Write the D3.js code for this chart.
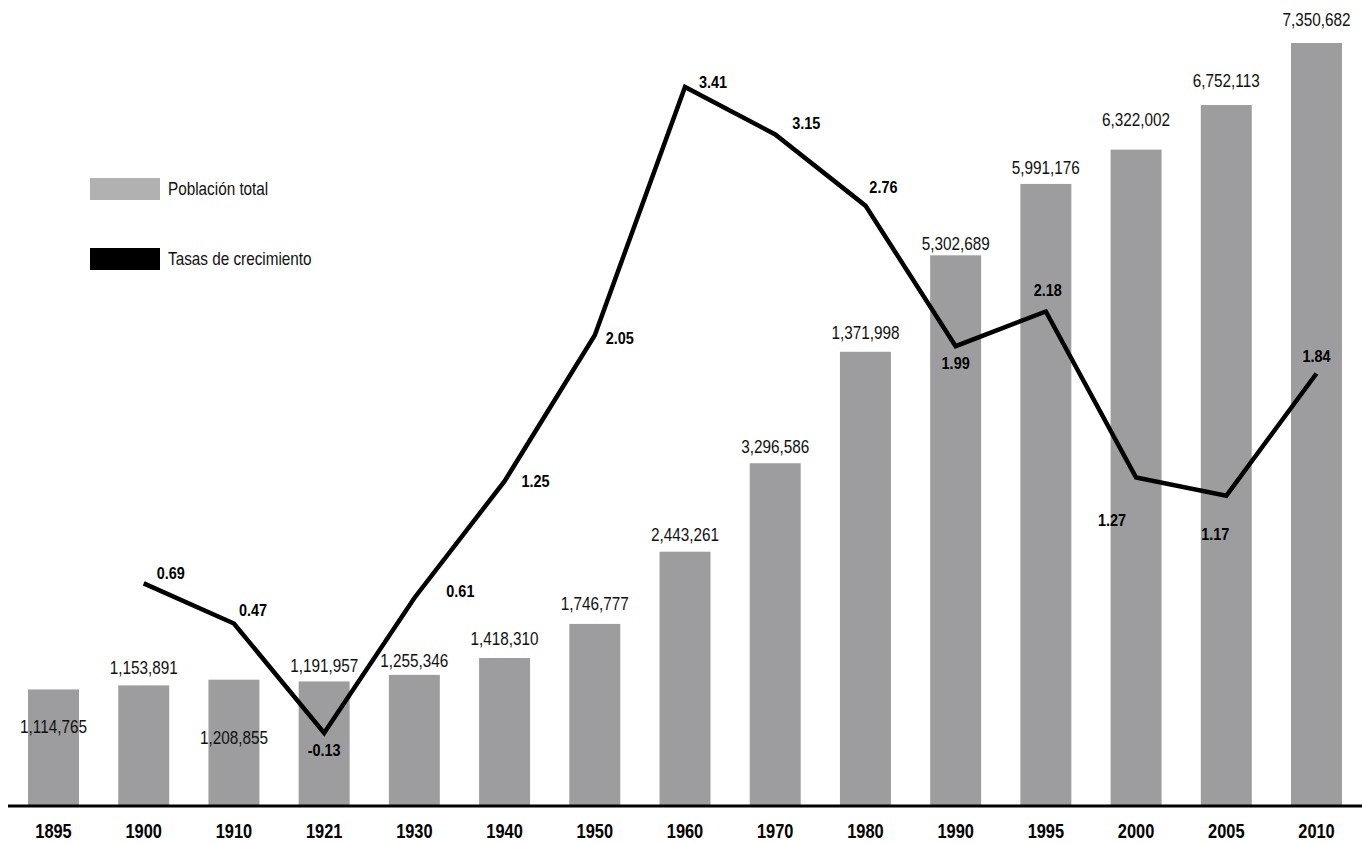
<!DOCTYPE html>
<html>
<head>
<meta charset="utf-8">
<script src="https://cdn.jsdelivr.net/npm/d3@7"></script>
<style>
  body { margin: 0; background: #fff; }
  text { font-family: "Liberation Sans", Arial, sans-serif; }
</style>
</head>
<body>
<div id="chart"></div>
<script>
const years = ['1895', '1900', '1910', '1921', '1930', '1940', '1950', '1960', '1970', '1980', '1990', '1995', '2000', '2005', '2010'];
const population = [1114765, 1153891, 1208855, 1191957, 1255346, 1418310, 1746777, 2443261, 3296586, 4371998, 5302689, 5991176, 6322002, 6752113, 7350682];
// labels as printed in the source (1980 is printed 1,371,998)
const popLabels = ['1,114,765', '1,153,891', '1,208,855', '1,191,957', '1,255,346', '1,418,310', '1,746,777', '2,443,261', '3,296,586', '1,371,998', '5,302,689', '5,991,176', '6,322,002', '6,752,113', '7,350,682'];
const rateYears = ['1900', '1910', '1921', '1930', '1940', '1950', '1960', '1970', '1980', '1990', '1995', '2000', '2005', '2010'];
const rates = [0.69, 0.47, -0.13, 0.61, 1.25, 2.05, 3.41, 3.15, 2.76, 1.99, 2.18, 1.27, 1.17, 1.84];

const width = 1362, height = 843;
const baseY = 805;
const narrow = 0.85; // squeeze text, the original uses a condensed face

const svg = d3.select('#chart').append('svg')
  .attr('width', width)
  .attr('height', height);

const x = d3.scaleBand()
  .domain(years)
  .range([8.4, 1361.6])
  .paddingInner(0.435)
  .paddingOuter(0.2175);

const y = d3.scaleLinear()
  .domain([0, 7350682])
  .range([baseY, 43]);

const yRate = d3.scaleLinear()
  .domain([-0.13, 3.41])
  .range([733, 87]);

// bars
svg.append('g')
  .selectAll('rect')
  .data(years)
  .enter()
  .append('rect')
  .attr('x', d => x(d))
  .attr('width', x.bandwidth())
  .attr('y', (d, i) => y(population[i]))
  .attr('height', (d, i) => baseY - y(population[i]))
  .attr('fill', '#9d9d9f');

// population labels (offset of text centre from bar top, hand placed like the original)
const popDy = [37, -18, 58, -16, -14, -19, -20, -17, -17, -19, -12, -16, -30, -24, -23];
svg.append('g')
  .selectAll('text')
  .data(years)
  .enter()
  .append('text')
  .attr('transform', (d, i) => `translate(${x(d) + x.bandwidth() / 2},${y(population[i]) + popDy[i]}) scale(${narrow},1)`)
  .attr('dy', '0.35em')
  .attr('text-anchor', 'middle')
  .attr('font-size', 18)
  .attr('fill', '#111')
  .text((d, i) => popLabels[i]);

// growth rate line
const line = d3.line()
  .x((d, i) => x(rateYears[i]) + x.bandwidth() / 2)
  .y(d => yRate(d));

svg.append('path')
  .datum(rates)
  .attr('d', line)
  .attr('fill', 'none')
  .attr('stroke', '#000')
  .attr('stroke-width', 4.5)
  .attr('stroke-linejoin', 'miter');

const rateOff = [[27, -10], [19, -13], [0, 17], [46, -7], [31, 0], [25, 3], [28, -5], [31, -11], [18, -19], [0, 17], [2, -21], [-24, 43], [-11, 38], [0, -17]];
svg.append('g')
  .selectAll('text')
  .data(rates)
  .enter()
  .append('text')
  .attr('transform', (d, i) => `translate(${x(rateYears[i]) + x.bandwidth() / 2 + rateOff[i][0]},${yRate(d) + rateOff[i][1]}) scale(${narrow},1)`)
  .attr('dy', '0.35em')
  .attr('text-anchor', 'middle')
  .attr('font-size', 17)
  .attr('font-weight', 'bold')
  .attr('fill', '#000')
  .text(d => d.toFixed(2));

// x axis
const xAxis = svg.append('g')
  .attr('transform', `translate(0,${baseY})`)
  .call(d3.axisBottom(x).tickSize(0).tickPadding(0));
xAxis.select('.domain').remove();
xAxis.selectAll('text')
  .attr('y', 0)
  .attr('dy', 0)
  .attr('transform', 'translate(0,33) scale(0.82,1)')
  .attr('font-size', 20)
  .attr('font-weight', 'bold')
  .attr('fill', '#000')
  .style('font-family', '"Liberation Sans", Arial, sans-serif');

svg.append('line')
  .attr('x1', 8)
  .attr('x2', width)
  .attr('y1', baseY + 1)
  .attr('y2', baseY + 1)
  .attr('stroke', '#000')
  .attr('stroke-width', 3);

// legend
const legendItems = ['Población total', 'Tasas de crecimiento'];
const legendColors = ['#b1b1b1', '#000'];
const legend = svg.append('g')
  .selectAll('g')
  .data(legendItems)
  .enter()
  .append('g')
  .attr('transform', (d, i) => `translate(90,${178 + i * 70})`);
legend.append('rect')
  .attr('width', 70)
  .attr('height', 22)
  .attr('fill', (d, i) => legendColors[i]);
legend.append('text')
  .attr('transform', `translate(78,11) scale(${narrow},1)`)
  .attr('dy', '0.35em')
  .attr('font-size', 18)
  .attr('fill', '#111')
  .text(d => d);
</script>
</body>
</html>
